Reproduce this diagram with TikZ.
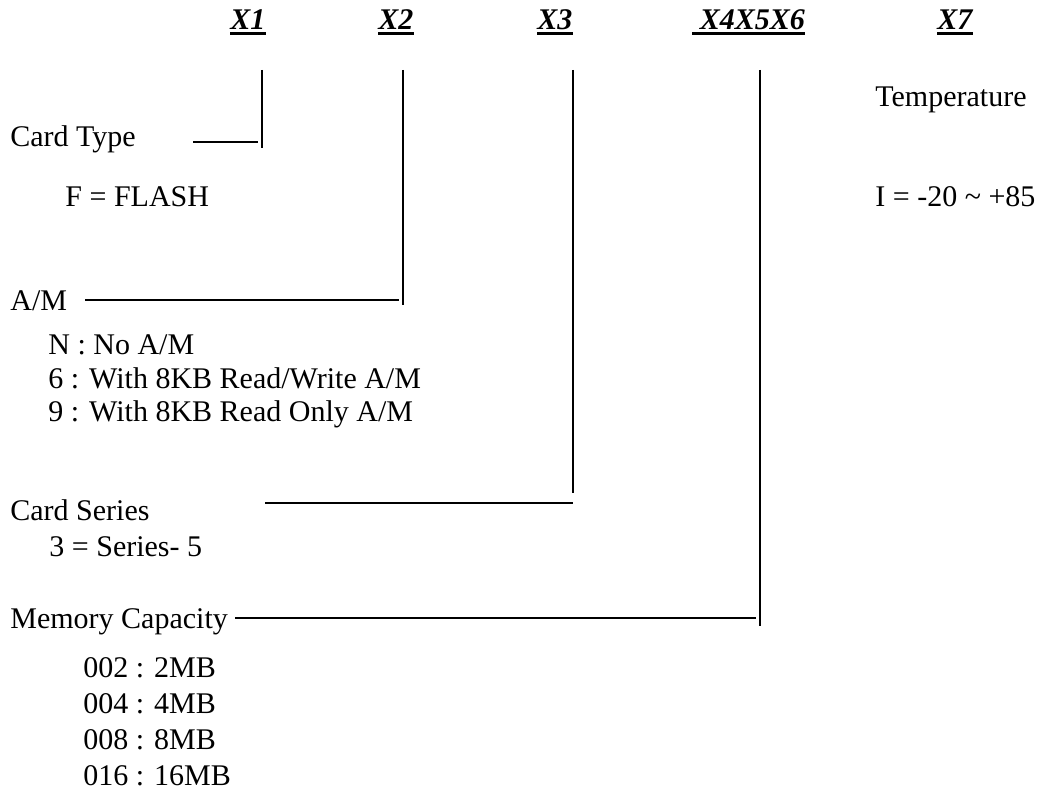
\documentclass[tikz,border=0pt]{standalone}
\usepackage{fontspec}
\setmainfont{Liberation Serif}
\usetikzlibrary{positioning}

\begin{document}
\begin{tikzpicture}[x=0.5pt,y=-0.5pt,
  txt/.style={anchor=base west, inner sep=0pt, font=\fontsize{15}{18}\selectfont},
  head/.style={anchor=base west, inner sep=0pt, font=\fontsize{15}{18}\selectfont\bfseries\itshape},
  lead/.style={line width=1pt}]
\useasboundingbox (0,0) rectangle (1037,791);

% Kopfzeile
\node[head] (x1) at (230,30) {X1};
\node[head] (x2) at (378,30) {X2};
\node[head] (x3) at (537,30) {X3\ };
\node[head] (x456) at (692,30) {\ X4X5X6\ };
\node[head] (x7) at (937,30) {X7};
\foreach \h in {x1,x2,x3,x456,x7}
  \draw[line width=1.5pt] ([yshift=-2pt]\h.base west) -- ([yshift=-2pt]\h.base east);

% Texte links
\node[txt] (type) at (10,147) {Card Type};
\node[txt] (flash) at (65,206) {F = FLASH};
\node[txt] (am) at (10,310) {A/M};
\node[txt] (amn) at (48,354) {N : No A/M};
\node[txt] (am6) at (48,388) {6 : With 8KB Read/Write A/M};
\node[txt] (am9) at (48,421) {9 : With 8KB Read Only A/M};
\node[txt] (series) at (10,520) {Card Series};
\node[txt] (series5) at (49,556) {3 = Series- 5};
\node[txt] (mem) at (10,628) {Memory Capacity};
\node[txt] (m2) at (83,677) {002 : 2MB};
\node[txt] (m4) at (83,713) {004 : 4MB};
\node[txt] (m8) at (83,749) {008 : 8MB};
\node[txt] (m16) at (83,785) {016 : 16MB};

% Texte rechts
\node[txt] (temp) at (875,107) {Temperature};
\node[txt] (tempi) at (875,206) {I = -20 \textasciitilde{} +85};

% Linien
\coordinate (t1) at (262,70);  \coordinate (k1) at (262,148);
\coordinate (t2) at (403,70);  \coordinate (k2) at (403,305);
\coordinate (t3) at (573,70);  \coordinate (k3) at (573,493);
\coordinate (t4) at (760,70);  \coordinate (k4) at (760,626);
\coordinate (h1) at (193,142);
\coordinate (h2) at (85,300);
\coordinate (h3) at (265,503);
\coordinate (h4) at (235,618);

\draw[lead] (t1) -- (k1);
\draw[lead] (t2) -- (k2);
\draw[lead] (t3) -- (k3);
\draw[lead] (t4) -- (k4);
\draw[lead] (h1) -- ([xshift=-2pt]h1 -| t1);
\draw[lead] (h2) -- ([xshift=-2pt]h2 -| t2);
\draw[lead] (h3) -- (h3 -| t3);
\draw[lead] (h4) -- ([xshift=-2pt]h4 -| t4);
\end{tikzpicture}
\end{document}
